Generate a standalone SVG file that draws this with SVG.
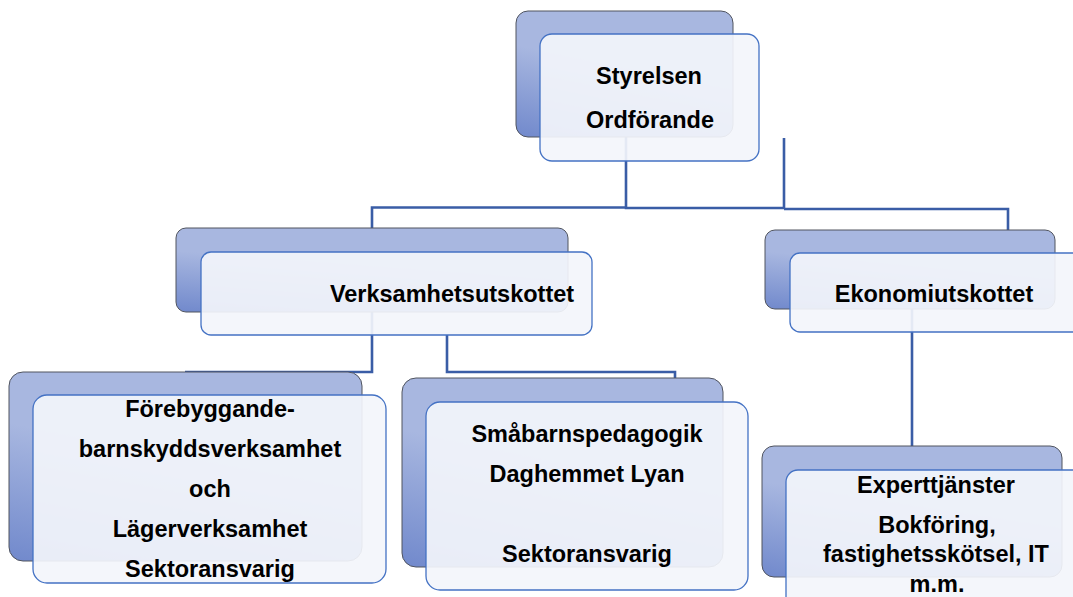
<svg xmlns="http://www.w3.org/2000/svg" width="1073" height="597" viewBox="0 0 1073 597">
<defs>
<linearGradient id="bg" x1="0.35" y1="0" x2="0" y2="1">
<stop offset="0.35" stop-color="#A8B7E0"/>
<stop offset="1" stop-color="#7189CC"/>
</linearGradient>
</defs>
<style>
.back{fill:url(#bg);stroke:#50545f;stroke-width:1}
.front{fill:#F3F5FB;fill-opacity:0.92;stroke:#4472C4;stroke-width:1.3}
.con{fill:none;stroke:#3A5DA6;stroke-width:2.6}
.t{font-family:"Liberation Sans",Arial,sans-serif;font-weight:bold;font-size:23.5px;fill:#000;text-anchor:middle}
</style>
<rect width="1073" height="597" fill="#fff"/>
<g id="connectors">
<path class="con" d="M626 137 V208 H784 V138" stroke-width="3.2"/>
<path class="con" d="M626 207.5 H372 V229"/>
<path class="con" d="M784 209 H1008 V231"/>
<path class="con" d="M372 312 V372 H185"/>
<path class="con" d="M447 335 V372 H675 V378"/>
<path class="con" d="M912 309 V446"/>
</g>
<g id="styrelsen">
<rect class="back" x="516" y="11" width="217" height="126" rx="12"/>
<rect class="front" x="540" y="34" width="219" height="127" rx="12"/>
<text class="t" x="649" y="84">Styrelsen</text>
<text class="t" x="650" y="128">Ordförande</text>
</g>
<g id="verksamhetsutskottet">
<rect class="back" x="176" y="228" width="392" height="84" rx="10"/>
<rect class="front" x="201" y="252" width="391" height="83" rx="10"/>
<text class="t" x="452" y="302">Verksamhetsutskottet</text>
</g>
<g id="ekonomiutskottet">
<rect class="back" x="765" y="230" width="290" height="79" rx="10"/>
<rect class="front" x="790" y="253" width="320" height="79" rx="10"/>
<text class="t" x="934" y="302">Ekonomiutskottet</text>
</g>
<g id="forebyggande">
<rect class="back" x="9" y="372" width="353" height="189" rx="14"/>
<rect class="front" x="33" y="395" width="353" height="188" rx="14"/>
<text class="t" x="210" y="417">Förebyggande-</text>
<text class="t" x="210" y="457">barnskyddsverksamhet</text>
<text class="t" x="210" y="497">och</text>
<text class="t" x="210" y="537">Lägerverksamhet</text>
<text class="t" x="210" y="577">Sektoransvarig</text>
</g>
<g id="smabarn">
<rect class="back" x="402" y="378" width="321" height="189" rx="14"/>
<rect class="front" x="426" y="402" width="322" height="188" rx="14"/>
<text class="t" x="587" y="442">Småbarnspedagogik</text>
<text class="t" x="587" y="482">Daghemmet Lyan</text>
<text class="t" x="587" y="562">Sektoransvarig</text>
</g>
<g id="expert">
<rect class="back" x="762" y="446" width="300" height="131" rx="12"/>
<rect class="front" x="786" y="470" width="320" height="160" rx="12"/>
<text class="t" x="936" y="493">Experttjänster</text>
<text class="t" x="937" y="533">Bokföring,</text>
<text class="t" x="936" y="562">fastighetsskötsel, IT</text>
<text class="t" x="937" y="592">m.m.</text>
</g>
</svg>
